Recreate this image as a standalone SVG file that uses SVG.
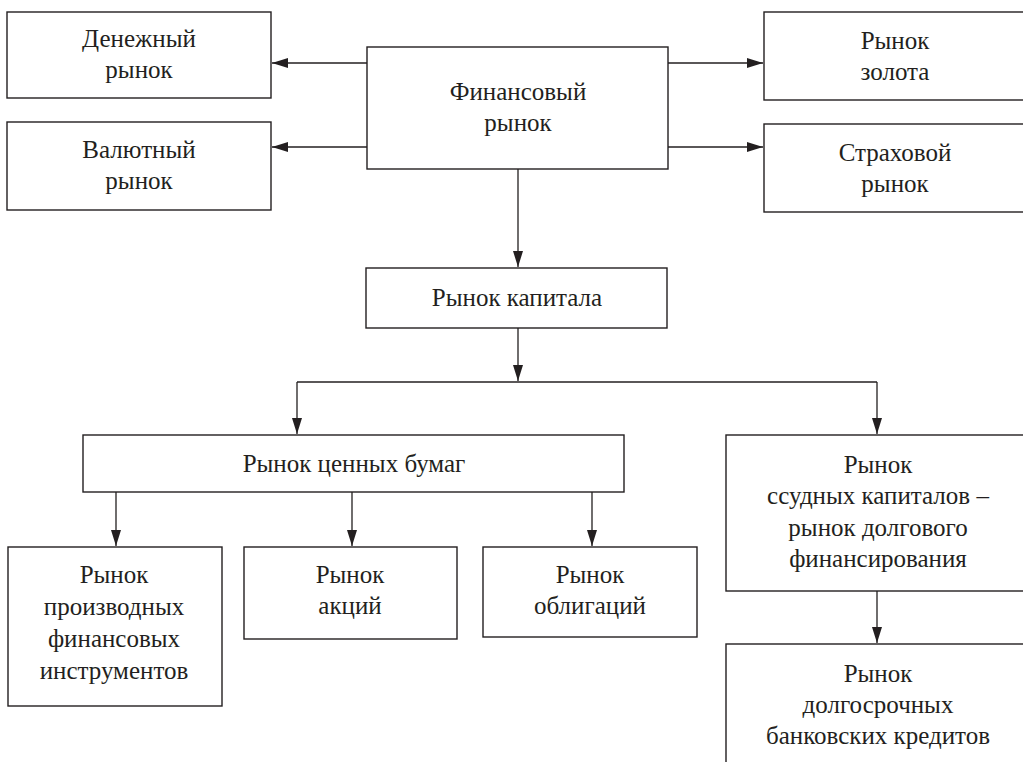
<svg xmlns="http://www.w3.org/2000/svg" width="1023" height="762" viewBox="0 0 1023 762">
<defs>
<marker id="arr" markerUnits="userSpaceOnUse" markerWidth="17" markerHeight="11" refX="16" refY="5" orient="auto">
<path d="M0,0 L16,5 L0,10 z" fill="#231f20"/>
</marker>
</defs>
<rect width="1023" height="762" fill="#fff"/>
<g id="connectors" fill="none" stroke="#231f20" stroke-width="1.3">
<path marker-end="url(#arr)" d="M367,63 H272"/>
<path marker-end="url(#arr)" d="M367,147 H272"/>
<path marker-end="url(#arr)" d="M668,63 H763"/>
<path marker-end="url(#arr)" d="M668,147 H763"/>
<path marker-end="url(#arr)" d="M518,169 V267"/>
<path marker-end="url(#arr)" d="M518,328 V381"/>
<path d="M297,382 H877"/>
<path marker-end="url(#arr)" d="M297,382 V434"/>
<path marker-end="url(#arr)" d="M877,382 V434"/>
<path marker-end="url(#arr)" d="M116,492 V546"/>
<path marker-end="url(#arr)" d="M352,492 V546"/>
<path marker-end="url(#arr)" d="M592,492 V546"/>
<path marker-end="url(#arr)" d="M877,591 V643"/>
</g>
<g id="fin">
<rect fill="#fff" stroke="#231f20" stroke-width="1.4" x="367" y="47" width="301" height="122"/>
<text font-family="Liberation Serif" font-size="25" fill="#231f20" text-anchor="middle" x="518" y="100">Финансовый</text>
<text font-family="Liberation Serif" font-size="25" fill="#231f20" text-anchor="middle" x="518" y="131">рынок</text>
</g>
<g id="den">
<rect fill="#fff" stroke="#231f20" stroke-width="1.4" x="7" y="12" width="264" height="86"/>
<text font-family="Liberation Serif" font-size="25" fill="#231f20" text-anchor="middle" x="139" y="47">Денежный</text>
<text font-family="Liberation Serif" font-size="25" fill="#231f20" text-anchor="middle" x="139" y="78">рынок</text>
</g>
<g id="val">
<rect fill="#fff" stroke="#231f20" stroke-width="1.4" x="7" y="122" width="264" height="88"/>
<text font-family="Liberation Serif" font-size="25" fill="#231f20" text-anchor="middle" x="139" y="158">Валютный</text>
<text font-family="Liberation Serif" font-size="25" fill="#231f20" text-anchor="middle" x="139" y="189">рынок</text>
</g>
<g id="zol">
<rect fill="#fff" stroke="#231f20" stroke-width="1.4" x="764" y="12" width="264" height="88"/>
<text font-family="Liberation Serif" font-size="25" fill="#231f20" text-anchor="middle" x="895" y="49">Рынок</text>
<text font-family="Liberation Serif" font-size="25" fill="#231f20" text-anchor="middle" x="895" y="80">золота</text>
</g>
<g id="str">
<rect fill="#fff" stroke="#231f20" stroke-width="1.4" x="764" y="124" width="264" height="88"/>
<text font-family="Liberation Serif" font-size="25" fill="#231f20" text-anchor="middle" x="895" y="161">Страховой</text>
<text font-family="Liberation Serif" font-size="25" fill="#231f20" text-anchor="middle" x="895" y="192">рынок</text>
</g>
<g id="kap">
<rect fill="#fff" stroke="#231f20" stroke-width="1.4" x="366" y="268" width="301" height="60"/>
<text font-family="Liberation Serif" font-size="25" fill="#231f20" text-anchor="middle" x="517" y="306">Рынок капитала</text>
</g>
<g id="cen">
<rect fill="#fff" stroke="#231f20" stroke-width="1.4" x="83" y="435" width="541" height="57"/>
<text font-family="Liberation Serif" font-size="25" fill="#231f20" text-anchor="middle" x="354" y="472">Рынок ценных бумаг</text>
</g>
<g id="pro">
<rect fill="#fff" stroke="#231f20" stroke-width="1.4" x="8" y="547" width="214" height="159"/>
<text font-family="Liberation Serif" font-size="25" fill="#231f20" text-anchor="middle" x="114" y="583">Рынок</text>
<text font-family="Liberation Serif" font-size="25" fill="#231f20" text-anchor="middle" x="114" y="615">производных</text>
<text font-family="Liberation Serif" font-size="25" fill="#231f20" text-anchor="middle" x="114" y="647">финансовых</text>
<text font-family="Liberation Serif" font-size="25" fill="#231f20" text-anchor="middle" x="114" y="679">инструментов</text>
</g>
<g id="akc">
<rect fill="#fff" stroke="#231f20" stroke-width="1.4" x="244" y="547" width="213" height="92"/>
<text font-family="Liberation Serif" font-size="25" fill="#231f20" text-anchor="middle" x="350" y="583">Рынок</text>
<text font-family="Liberation Serif" font-size="25" fill="#231f20" text-anchor="middle" x="350" y="614">акций</text>
</g>
<g id="obl">
<rect fill="#fff" stroke="#231f20" stroke-width="1.4" x="483" y="547" width="214" height="90"/>
<text font-family="Liberation Serif" font-size="25" fill="#231f20" text-anchor="middle" x="590" y="583">Рынок</text>
<text font-family="Liberation Serif" font-size="25" fill="#231f20" text-anchor="middle" x="590" y="614">облигаций</text>
</g>
<g id="ssud">
<rect fill="#fff" stroke="#231f20" stroke-width="1.4" x="726" y="435" width="304" height="156"/>
<text font-family="Liberation Serif" font-size="25" fill="#231f20" text-anchor="middle" x="878" y="473">Рынок</text>
<text font-family="Liberation Serif" font-size="25" fill="#231f20" text-anchor="middle" x="878" y="504">ссудных капиталов –</text>
<text font-family="Liberation Serif" font-size="25" fill="#231f20" text-anchor="middle" x="878" y="536">рынок долгового</text>
<text font-family="Liberation Serif" font-size="25" fill="#231f20" text-anchor="middle" x="878" y="567">финансирования</text>
</g>
<g id="dolg">
<rect fill="#fff" stroke="#231f20" stroke-width="1.4" x="726" y="644" width="304" height="130"/>
<text font-family="Liberation Serif" font-size="25" fill="#231f20" text-anchor="middle" x="878" y="682">Рынок</text>
<text font-family="Liberation Serif" font-size="25" fill="#231f20" text-anchor="middle" x="878" y="713">долгосрочных</text>
<text font-family="Liberation Serif" font-size="25" fill="#231f20" text-anchor="middle" x="878" y="744">банковских кредитов</text>
</g>
</svg>
